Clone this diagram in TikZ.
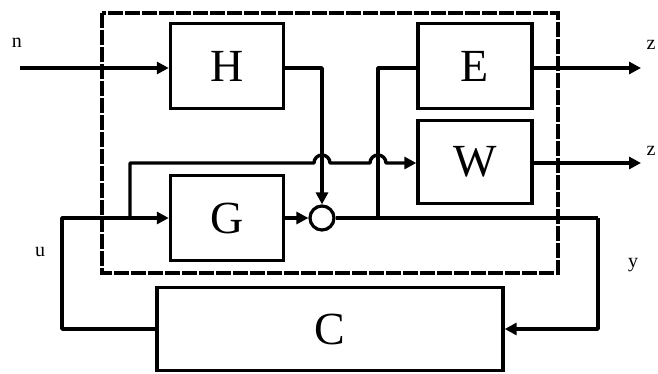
\documentclass[tikz,border=0pt]{standalone}
\usepackage{fontspec}
\setmainfont{Liberation Serif}
\usetikzlibrary{arrows.meta}
\begin{document}
\begin{tikzpicture}[x=1pt,y=-1pt,
  wire/.style={line width=3.4pt,line join=round},
  arr/.style={wire,-{Triangle[length=12pt,width=12pt]}},
  blk/.style={draw,line width=3.4pt,inner sep=0pt,font=\fontsize{46}{46}\selectfont},
  lbl/.style={font=\fontsize{20}{20}\selectfont,inner sep=0pt}]
\useasboundingbox (0,0) rectangle (658,374);
% dashed enclosure
\draw[line width=3.6pt,dash pattern=on 15pt off 2pt] (102,13) rectangle (558,273);
% blocks
\node[blk,minimum width=113pt,minimum height=85pt] (H) at (227,66) {H};
\node[blk,minimum width=113pt,minimum height=85pt] (G) at (227,218) {G};
\node[blk,minimum width=114pt,minimum height=85pt] (E) at (475,66) {E};
\node[blk,minimum width=114pt,minimum height=83pt] (W) at (475,162) {W};
\node[blk,minimum width=346pt,minimum height=83pt] (C) at (330,329) {C};
\node[draw,circle,line width=3.2pt,minimum size=24pt,inner sep=0pt] (S) at (322,218) {};
% labels
\node[lbl] (ln) at (17,43) {n};
\node[lbl] (lu) at (40,252) {u};
\node[lbl] (ly) at (633,265) {y};
\node[lbl] (lz1) at (651,45) {z};
\node[lbl] (lz2) at (651,151) {z};
% coordinates
\coordinate (nin) at (20,68);
\coordinate (z1) at (641,68);
\coordinate (z2) at (641,163);
\coordinate (yc) at (598,218);
\coordinate (ybot) at (598,329);
\coordinate (uleft) at (62,329);
\coordinate (utop) at (62,218);
\coordinate (br) at (130,218);
\coordinate (brtop) at (130,163);
\coordinate (ej) at (378,218);
\coordinate (ejtop) at (378,68);
\coordinate (hc) at (322,68);
% connectors
\draw[arr] (nin) -- (H.west |- nin);
\draw[arr] (H.east |- hc) -- (hc) -- (S.north);
\draw[arr] (G.east) -- (S.west);
\draw[wire] (S.east) -- (yc);
\draw[arr] (yc) -- (ybot) -- (C.east |- ybot);
\draw[arr] (C.west |- uleft) -- (uleft) -- (utop) -- (G.west);
\draw[wire] (ej) -- (ejtop) -- (E.west |- ejtop);
\draw[arr] (E.east |- z1) -- (z1);
\draw[arr] (W.east |- z2) -- (z2);
\draw[arr] (br) -- (brtop) -- (314,163) arc[start angle=180,end angle=0,radius=8pt]
  -- (370,163) arc[start angle=180,end angle=0,radius=8pt] -- (W.west |- z2);
\end{tikzpicture}
\end{document}
